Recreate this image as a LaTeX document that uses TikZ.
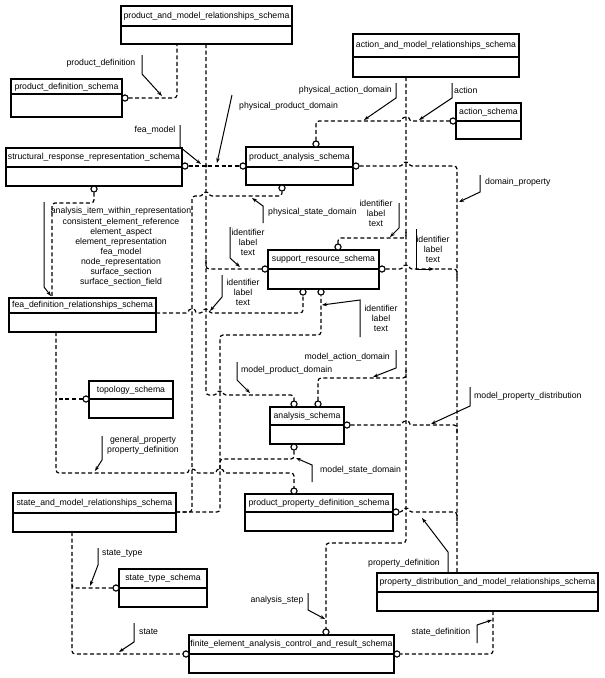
\documentclass[tikz,border=0pt]{standalone}
\usepackage{fontspec}
\setmainfont{Liberation Sans}
\usetikzlibrary{arrows.meta}

\tikzset{
  box/.style={line width=1.4pt},
  ref/.style={line width=1.2pt,dash pattern=on 4pt off 2.6pt,rounded corners=3pt},
  port/.style={circle,draw,fill=white,line width=1pt,inner sep=0pt,minimum size=6pt},
  lead/.style={line width=1pt,-{Stealth[length=5pt,width=3.6pt]}},
  title/.style={inner sep=0pt,font=\fontsize{8.7}{10.1}\selectfont},
  note/.style={inner sep=0pt,align=center,font=\fontsize{8.7}{10.1}\selectfont},
}

\begin{document}
\begin{tikzpicture}[x=1pt,y=-1pt]
  \useasboundingbox (0,0) rectangle (605,678);
  % schema boxes
  \draw[box] (121,6) rectangle (292,44); \draw[box] (121,26) -- (292,26);
  \node[title] (pmr) at (206.5,16) {product\_and\_model\_relationships\_schema};
  \draw[box] (11,79) rectangle (122,117); \draw[box] (11,94) -- (122,94);
  \node[title] (pds) at (66.5,87) {product\_definition\_schema};
  \draw[box] (6,148) rectangle (182,186); \draw[box] (6,167) -- (182,167);
  \node[title] (srr) at (94,157.5) {structural\_response\_representation\_schema};
  \draw[box] (246,147) rectangle (353,185); \draw[box] (246,167) -- (353,167);
  \node[title] (pas) at (299.5,157) {product\_analysis\_schema};
  \draw[box] (353,34) rectangle (519,77); \draw[box] (353,57) -- (519,57);
  \node[title] (amr) at (436,45.5) {action\_and\_model\_relationships\_schema};
  \draw[box] (456,103) rectangle (521,139); \draw[box] (456,121) -- (521,121);
  \node[title] (acs) at (488.5,112) {action\_schema};
  \draw[box] (268,250) rectangle (379,289); \draw[box] (268,269) -- (379,269);
  \node[title] (srs) at (323.5,259.5) {support\_resource\_schema};
  \draw[box] (9,298) rectangle (156,332); \draw[box] (9,313) -- (156,313);
  \node[title] (fdr) at (82.5,305.5) {fea\_definition\_relationships\_schema};
  \draw[box] (89,381) rectangle (173,418); \draw[box] (89,399) -- (173,399);
  \node[title] (tps) at (131,390) {topology\_schema};
  \draw[box] (270,407) rectangle (344,444); \draw[box] (270,425) -- (344,425);
  \node[title] (ans) at (307,416) {analysis\_schema};
  \draw[box] (245,494) rectangle (393,531); \draw[box] (245,512) -- (393,512);
  \node[title] (ppd) at (319,503) {product\_property\_definition\_schema};
  \draw[box] (13,493) rectangle (176,532); \draw[box] (13,513) -- (176,513);
  \node[title] (smr) at (94.5,503) {state\_and\_model\_relationships\_schema};
  \draw[box] (119,569) rectangle (207,607); \draw[box] (119,588) -- (207,588);
  \node[title] (sts) at (163,578.5) {state\_type\_schema};
  \draw[box] (189,635) rectangle (394,673); \draw[box] (189,654) -- (394,654);
  \node[title] (fea) at (291.5,644.5) {finite\_element\_analysis\_control\_and\_result\_schema};
  \draw[box] (377,573) rectangle (598,611); \draw[box] (377,592) -- (598,592);
  \node[title] (pdm) at (487.5,582.5) {property\_distribution\_and\_model\_relationships\_schema};

  % interface ends
  \node[port] (pds-e) at (125,98) {};
  \node[port] (srr-e) at (185,166) {};
  \node[port] (srr-s) at (94,189) {};
  \node[port] (pas-w) at (243,166) {};
  \node[port] (pas-e) at (356,166) {};
  \node[port] (pas-n) at (316,144) {};
  \node[port] (pas-s) at (282,188) {};
  \node[port] (acs-w) at (453,121) {};
  \node[port] (srs-w) at (265,269) {};
  \node[port] (srs-n) at (338,247) {};
  \node[port] (srs-e) at (382,269) {};
  \node[port] (srs-s1) at (303,292) {};
  \node[port] (srs-s2) at (321,292) {};
  \node[port] (tps-w) at (86,399) {};
  \node[port] (ans-n1) at (294,404) {};
  \node[port] (ans-n2) at (318,404) {};
  \node[port] (ans-e) at (347,425) {};
  \node[port] (ans-s) at (294,447) {};
  \node[port] (ppd-n) at (294,491) {};
  \node[port] (ppd-e) at (396,512) {};
  \node[port] (sts-w) at (116,588) {};
  \node[port] (fea-w) at (186,654) {};
  \node[port] (fea-e) at (397,654) {};
  \node[port] (fea-n) at (326,632) {};
  \coordinate (pmr-s1) at (177,44);
  \coordinate (pmr-s2) at (206,44);
  \coordinate (amr-s) at (406,77);
  \coordinate (pdm-n) at (457,573);
  \coordinate (pdm-s) at (493,611);
  \coordinate (smr-e) at (176,512);
  \coordinate (smr-s) at (72,532);
  \coordinate (fdr-n) at (52,298);
  \coordinate (fdr-e) at (156,313);
  \coordinate (fdr-s) at (56,332);
  \coordinate (join) at (206,166);

  % references
  \draw[ref] (pds-e) -- (177,98) -- (pmr-s1);
  \draw[ref] (pmr-s2) -- (206,395) -- (217,395) .. controls (217,391) and (223,391) .. (223,395) -- (294,395) -- (ans-n1);
  \draw[ref] (srr-e) -- (pas-w);
  \fill (join) circle (1.7pt);
  \draw[ref] (srs-w) -- (206,269) -- (206,258);
  \draw[ref] (smr-e) -- (192,512) -- (192,196) -- (203,196) .. controls (203,192) and (209,192) .. (209,196) -- (282,196) -- (pas-s);
  \draw[ref] (smr-e) -- (220,512) -- (220,335) -- (321,335) -- (srs-s2);
  \draw[ref] (ans-s) -- (294,459) -- (220,459) -- (220,470);
  \draw[ref] (srr-s) -- (94,203) -- (52,203) -- (fdr-n);
  \draw[ref] (fdr-e) -- (189,313) .. controls (189,309) and (195,309) .. (195,313) -- (203,313) .. controls (203,309) and (209,309) .. (209,313) -- (303,313) -- (srs-s1);
  \draw[ref] (fdr-s) -- (56,473) -- (189,473) .. controls (189,469) and (195,469) .. (195,473) -- (217,473) .. controls (217,469) and (223,469) .. (223,473) -- (294,473) -- (ppd-n);
  \draw[ref] (tps-w) -- (56,399);
  \draw[ref] (amr-s) -- (406,543) -- (326,543) -- (fea-n);
  \draw[ref] (pas-n) -- (316,121) -- (403,121) .. controls (403,117) and (409,117) .. (409,121) -- (acs-w);
  \draw[ref] (srs-n) -- (338,238) -- (406,238) -- (406,230);
  \draw[ref] (ans-n2) -- (318,378) -- (406,378) -- (406,370);
  \draw[ref] (pas-e) -- (403,166) .. controls (403,162) and (409,162) .. (409,166) -- (457,166) -- (pdm-n);
  \draw[ref] (srs-e) -- (403,269) .. controls (403,265) and (409,265) .. (409,269) -- (457,269) -- (457,278);
  \draw[ref] (ans-e) -- (403,425) .. controls (403,421) and (409,421) .. (409,425) -- (457,425) -- (457,434);
  \draw[ref] (ppd-e) -- (403,512) .. controls (403,508) and (409,508) .. (409,512) -- (457,512) -- (457,521);
  \draw[ref] (pdm-s) -- (493,654) -- (fea-e);
  \draw[ref] (smr-s) -- (72,654) -- (fea-w);
  \draw[ref] (sts-w) -- (72,588) -- (72,580);

  % redraw ends on top
  \foreach \p in {pds-e,srr-e,srr-s,pas-w,pas-e,pas-n,pas-s,acs-w,srs-w,srs-n,srs-e,srs-s1,srs-s2,tps-w,ans-n1,ans-n2,ans-e,ans-s,ppd-n,ppd-e,sts-w,fea-w,fea-e,fea-n}
    \node[port] at (\p) {};

  % reference labels
  \node[note] (l-pd) at (101,63) {product\_definition};
  \draw[lead] (142,55) -- (142,74) -- (162,96);
  \node[note] (l-fm) at (155,130) {fea\_model};
  \draw[lead] (180,125) -- (180,147) -- (201,164);
  \node[note,anchor=west] (l-ppd) at (239,106) {physical\_product\_domain};
  \draw[lead] (232,95) -- (217,163);
  \node[note,anchor=east] (l-pad) at (392,90) {physical\_action\_domain};
  \draw[lead] (396,83) -- (396,98) -- (364,120);
  \node[note,anchor=west] (l-act) at (454,90) {action};
  \draw[lead] (452,83) -- (452,98) -- (419,120);
  \node[note,anchor=west] (l-dp) at (485,182) {domain\_property};
  \draw[lead] (480,175) -- (480,192) -- (459,202);
  \node[note,anchor=west] (l-psd) at (268,212) {physical\_state\_domain};
  \draw[lead] (263,223) -- (263,206) -- (252,198);
  \node[note] (l-id1) at (248,242) {identifier\\label\\text};
  \draw[lead] (230,227) -- (230,258) -- (240,267);
  \node[note] (l-id2) at (376,213) {identifier\\label\\text};
  \draw[lead] (399,203) -- (399,228) -- (390,237);
  \node[note] (l-id3) at (433,249) {identifier\\label\\text};
  \draw[lead] (416,229) -- (416,269) -- (434,269);
  \node[note] (l-id4) at (243,292) {identifier\\label\\text};
  \draw[lead] (222,275) -- (222,297) -- (210,311);
  \node[note] (l-id5) at (381,318) {identifier\\label\\text};
  \draw[lead] (360,337) -- (360,300) -- (322,305);
  \node[note] (l-items) at (121,247) {analysis\_item\_within\_representation\\consistent\_element\_reference\\element\_aspect\\element\_representation\\fea\_model\\node\_representation\\surface\_section\\surface\_section\_field};
  \draw[lead] (44,202) -- (44,287) -- (51,296);
  \node[note,anchor=west] (l-mpd) at (241,370) {model\_product\_domain};
  \draw[lead] (237,362) -- (237,380) -- (250,393);
  \node[note,anchor=east] (l-mad) at (390,357) {model\_action\_domain};
  \draw[lead] (396,350) -- (396,368) -- (373,377);
  \node[note,anchor=west] (l-mpr) at (474,396) {model\_property\_distribution};
  \draw[lead] (470,387) -- (470,406) -- (431,424);
  \node[note,anchor=west] (l-msd) at (320,470) {model\_state\_domain};
  \draw[lead] (312,482) -- (312,465) -- (296,458);
  \node[note] (l-gp) at (143,445.5) {general\_property\\property\_definition};
  \draw[lead] (102,436) -- (102,460) -- (95,471);
  \node[note,anchor=east] (l-pdf) at (440,563) {property\_definition};
  \draw[lead] (448,572) -- (448,552) -- (422,518);
  \node[note] (l-as) at (277,600) {analysis\_step};
  \draw[lead] (308,593) -- (308,610) -- (325,619);
  \node[note] (l-sd) at (441,632) {state\_definition};
  \draw[lead] (477,643) -- (477,625) -- (492,620);
  \node[note,anchor=west] (l-st) at (102,554) {state\_type};
  \draw[lead] (98,548) -- (98,565) -- (90,586);
  \node[note,anchor=west] (l-s) at (139,632) {state};
  \draw[lead] (134,623) -- (134,642) -- (119,652);
\end{tikzpicture}
\end{document}
